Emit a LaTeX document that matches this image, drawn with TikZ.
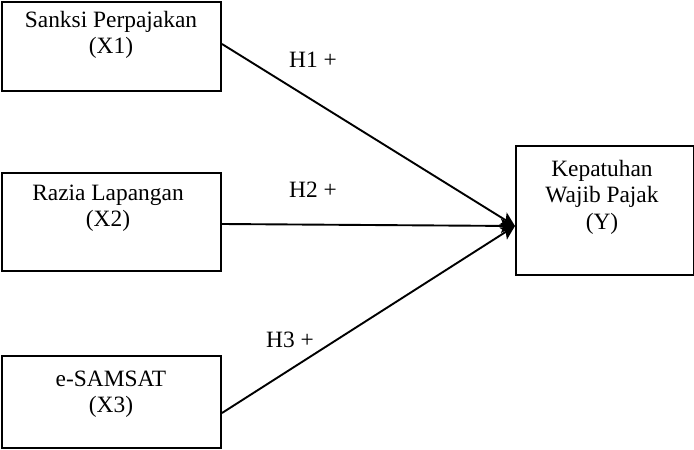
\documentclass[tikz,border=0pt]{standalone}
\usepackage{fontspec}
\setmainfont{Liberation Serif}
\usetikzlibrary{arrows.meta}
\begin{document}
\begin{tikzpicture}[x=1pt,y=-1pt,
  box/.style={draw,line width=2.2pt,minimum width=#1,inner sep=0pt,anchor=north west},
  lbl/.style={font=\fontsize{23.4}{26.5}\selectfont,align=center,inner sep=0pt},
  conn/.style={line width=1.9pt,-{Stealth[length=14pt,width=14pt,inset=3pt]}}]
\useasboundingbox (0,0) rectangle (694,450);
\node[box=219pt,minimum height=89pt] (b1) at (1,1) {};
\node[box=219pt,minimum height=98pt] (b2) at (1,172) {};
\node[box=219pt,minimum height=92pt] (b3) at (1,355) {};
\node[box=178pt,minimum height=129pt] (by) at (515,145) {};
\node[lbl] (t1) at (111,35) {Sanksi Perpajakan\\(X1)};
\node[lbl] (t2) at (108,208) {Razia Lapangan\\(X2)};
\node[lbl] (t3) at (111,394) {e-SAMSAT\\(X3)};
\node[lbl] (ty) at (602,197) {Kepatuhan\\Wajib Pajak\\(Y)};
\coordinate (s1) at (222,44);
\coordinate (s2) at (222,224);
\coordinate (s3) at (222,413);
\coordinate (e) at (515,226);
\draw[conn] (s1) -- (e);
\draw[conn] (s2) -- (e);
\draw[conn] (s3) -- (e);
\node[lbl] (h1) at (313,60) {H1 +};
\node[lbl] (h2) at (313,190) {H2 +};
\node[lbl] (h3) at (290,340) {H3 +};
\end{tikzpicture}
\end{document}
